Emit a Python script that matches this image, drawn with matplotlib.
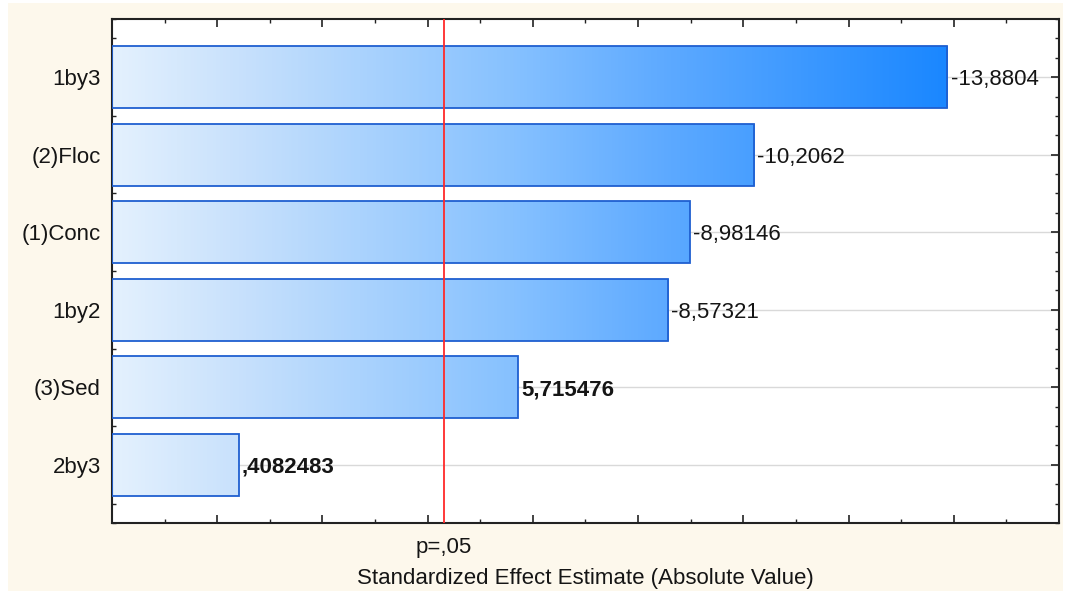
import numpy as np
import matplotlib.pyplot as plt
from matplotlib.colors import LinearSegmentedColormap
from matplotlib.patches import Rectangle
from matplotlib.ticker import MultipleLocator

plt.rcParams['font.family'] = ['Liberation Sans', 'DejaVu Sans']

# Pareto chart of standardized effects
effects = ['1by3', '(2)Floc', '(1)Conc', '1by2', '(3)Sed', '2by3']
t_values = [-13.8804, -10.2062, -8.98146, -8.57321, 5.715476, 0.4082483]
value_labels = ['-13,8804', '-10,2062', '-8,98146', '-8,57321', '5,715476', ',4082483']
p_crit = 4.303  # t(0.975, df=2)

abs_t = np.abs(t_values)
x_min, x_max = -2, 16
fs = 16

fig = plt.figure(figsize=(10.67, 5.91), dpi=100, facecolor='white')
fig.patches.append(Rectangle((8 / 1067, 0), 1055 / 1067, 588 / 591,
                             transform=fig.transFigure, facecolor='#fdf8ec',
                             edgecolor='none', zorder=-10))
ax = fig.add_axes([112 / 1067, 1 - 523 / 591, 947 / 1067, 504 / 591])
ax.set_facecolor('white')

# light-to-deep blue fill running along the x axis
blues = LinearSegmentedColormap.from_list(
    'pareto_blues',
    [(0.0, '#e4f1fe'), (0.15, '#c8e1fc'), (0.48, '#86c1ff'),
     (0.66, '#5eaaff'), (1.0, '#1a87ff')])
grad = np.linspace(0, 1, 512).reshape(1, -1)

ypos = np.arange(len(effects))

for y in ypos:
    ax.axhline(y, color='#d9d9d9', lw=1.0, zorder=0)

for y, v, lab, raw in zip(ypos, abs_t, value_labels, t_values):
    bar = ax.barh(y, v - x_min, left=x_min, height=0.8,
                  facecolor='none', edgecolor='#1f5fd0', lw=1.3, zorder=3)[0]
    img = ax.imshow(grad, cmap=blues, aspect='auto',
                    extent=[x_min, abs_t.max(), y + 0.4, y - 0.4], zorder=2)
    img.set_clip_path(bar)
    ax.text(v + 0.06, y, lab, va='center_baseline', ha='left', fontsize=fs,
            color='#151515', fontweight='bold' if raw > 0 else 'normal', zorder=4)

ax.set_xlim(x_min, x_max)
ax.set_ylim(len(effects) - 0.25, -0.75)

ax.axvline(p_crit, color='#ff2a2a', lw=1.3, zorder=5)
ax.text(p_crit, -0.027, 'p=,05', transform=ax.get_xaxis_transform(),
        ha='center', va='top', fontsize=fs, color='#151515')

ax.set_yticks(ypos)
ax.set_yticklabels(effects, fontsize=fs, color='#151515', va='center_baseline')
ax.yaxis.set_minor_locator(MultipleLocator(0.25))
ax.xaxis.set_major_locator(MultipleLocator(2))
ax.xaxis.set_minor_locator(MultipleLocator(1))
ax.set_xticklabels([])
ax.tick_params(which='both', direction='in', top=True, right=True, color='#222222')
ax.tick_params(which='major', length=6, width=1.2)
ax.tick_params(which='minor', length=3, width=1.0)
ax.tick_params(axis='y', which='major', pad=8)

for s in ax.spines.values():
    s.set_color('#222222')
    s.set_linewidth(1.5)

ax.set_xlabel('Standardized Effect Estimate (Absolute Value)', fontsize=fs,
              color='#151515', labelpad=29)

fig.savefig('out.png', dpi=100, facecolor=fig.get_facecolor())
